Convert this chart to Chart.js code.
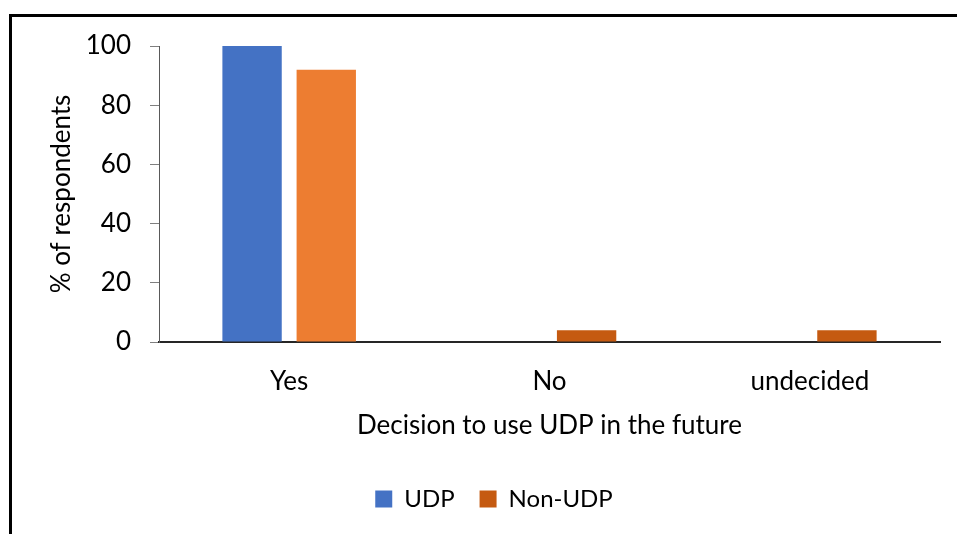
<!DOCTYPE html>
<html>
<head>
<meta charset="utf-8">
<script src="https://cdn.jsdelivr.net/npm/chart.js@4.4.0/dist/chart.umd.min.js"></script>
<style>
  html, body { margin: 0; padding: 0; background: #fff; }
  #frame {
    position: absolute; left: 9px; top: 14px; width: 948px; height: 520px;
    border-left: 3px solid #000; border-top: 3px solid #000; box-sizing: border-box;
  }
  #wrap { position: absolute; left: 0; top: 0; width: 957px; height: 534px; }
</style>
</head>
<body>
<div id="frame"></div>
<div id="wrap"><canvas id="decisionChart"></canvas></div>
<script>
const categories = ['Yes', 'No', 'undecided'];
const udpValues = [100, 0, 0];
const nonUdpValues = [92, 4, 4];
const yTicks = [0, 20, 40, 60, 80, 100];

const udpColor = '#4472C4';
const nonUdpColors = ['#ED7D31', '#C55A11', '#C55A11'];
const nonUdpLegendColor = '#C55A11';

const font = { family: 'Lato, "Liberation Sans", sans-serif', size: 26 };
const legendFont = { family: 'Lato, "Liberation Sans", sans-serif', size: 24 };

// nudge the legend to the right so it sits under the plot, not the whole canvas
const legendShift = {
    id: 'legendShift',
    afterLayout: function (chart) {
        if (chart.legend) {
            chart.legend.left += 24;
            chart.legend.right += 24;
        }
    }
};

const ctx = document.getElementById('decisionChart').getContext('2d');

new Chart(ctx, {
    type: 'bar',
    data: {
        labels: categories,
        datasets: [{
            label: 'UDP',
            data: udpValues,
            backgroundColor: udpColor,
            borderWidth: 0
        }, {
            label: 'Non-UDP',
            data: nonUdpValues,
            backgroundColor: nonUdpColors,
            borderWidth: 0
        }]
    },
    plugins: [legendShift],
    options: {
        responsive: true,
        maintainAspectRatio: false,
        animation: false,
        categoryPercentage: 0.57,
        barPercentage: 0.8,
        layout: {
            padding: { left: 0, top: 46, right: 17, bottom: 13 }
        },
        plugins: {
            tooltip: { enabled: false },
            legend: {
                position: 'bottom',
                labels: {
                    boxWidth: 17,
                    boxHeight: 17,
                    padding: 25,
                    color: '#000',
                    font: legendFont,
                    generateLabels: function (chart) {
                        const items = Chart.defaults.plugins.legend.labels.generateLabels(chart);
                        items.forEach(function (item) {
                            item.lineWidth = 0;
                            if (item.datasetIndex === 1) {
                                item.fillStyle = nonUdpLegendColor;
                                item.strokeStyle = nonUdpLegendColor;
                            }
                        });
                        return items;
                    }
                }
            }
        },
        scales: {
            x: {
                grid: { display: false, drawTicks: false },
                border: { display: true, color: '#262626', width: 2 },
                ticks: { padding: 24, color: '#000', font: font },
                title: {
                    display: true,
                    text: 'Decision to use UDP in the future',
                    color: '#000',
                    font: font,
                    padding: { top: 10, bottom: 21 }
                },
                afterFit: function (scale) { scale.height = 120; }
            },
            y: {
                min: 0,
                max: 100,
                afterBuildTicks: function (scale) {
                    scale.ticks = yTicks.map(function (v) { return { value: v }; });
                },
                ticks: { padding: 19, color: '#000', font: font },
                grid: {
                    display: true,
                    drawOnChartArea: false,
                    drawTicks: true,
                    tickLength: 9,
                    color: '#7f7f7f'
                },
                border: { display: true, color: '#595959', width: 1 },
                title: {
                    display: true,
                    text: '% of respondents',
                    color: '#000',
                    font: font,
                    padding: { top: 46, bottom: 0 }
                },
                afterFit: function (scale) { scale.width = 159; }
            }
        }
    }
});
</script>
</body>
</html>
